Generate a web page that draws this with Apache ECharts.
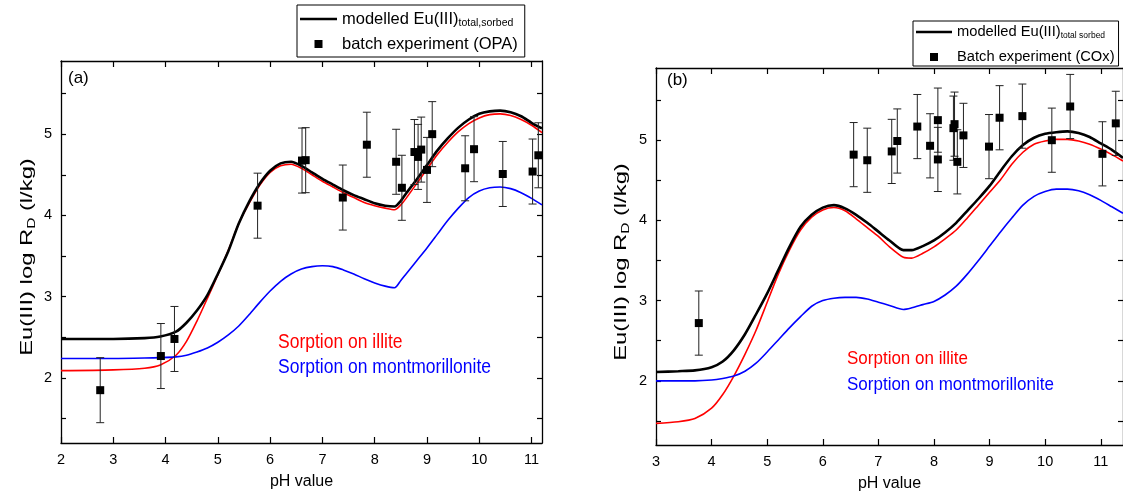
<!DOCTYPE html>
<html><head><meta charset="utf-8">
<script src="https://cdn.jsdelivr.net/npm/echarts@6/dist/echarts.min.js"></script>
<style>html,body{margin:0;padding:0;background:#fff}#c{width:1123px;height:497px}</style>
</head><body><div id="c"></div>
<script>
// ---------- Panel (a): OPA ----------
const phCurveA = [2, 3, 3.6, 3.9, 4.2, 4.4, 4.6, 4.8, 5.0, 5.2, 5.4, 5.6, 5.8, 6.0, 6.2, 6.4, 6.6, 6.8, 7.0, 7.2, 7.4, 7.6, 7.8, 8.0, 8.2, 8.38, 8.5, 8.6, 8.8, 9.0, 9.2, 9.4, 9.6, 9.8, 10.0, 10.2, 10.4, 10.6, 10.8, 11.0, 11.2];
const totalA = [2.48, 2.48, 2.49, 2.51, 2.57, 2.68, 2.83, 3.02, 3.28, 3.56, 3.9, 4.17, 4.39, 4.55, 4.64, 4.66, 4.61, 4.53, 4.45, 4.38, 4.31, 4.25, 4.2, 4.15, 4.12, 4.11, 4.18, 4.27, 4.44, 4.62, 4.8, 4.95, 5.08, 5.18, 5.25, 5.28, 5.29, 5.27, 5.22, 5.14, 5.07];
const illiteA = [2.09, 2.1, 2.12, 2.16, 2.28, 2.45, 2.7, 2.98, 3.27, 3.57, 3.9, 4.15, 4.37, 4.53, 4.61, 4.63, 4.58, 4.5, 4.42, 4.35, 4.28, 4.22, 4.16, 4.12, 4.09, 4.07, 4.13, 4.21, 4.39, 4.57, 4.75, 4.9, 5.03, 5.13, 5.2, 5.24, 5.25, 5.23, 5.18, 5.11, 5.02];
const montA = [2.24, 2.24, 2.245, 2.25, 2.26, 2.28, 2.32, 2.37, 2.44, 2.53, 2.64, 2.78, 2.93, 3.07, 3.19, 3.28, 3.34, 3.37, 3.38, 3.37, 3.33, 3.28, 3.22, 3.17, 3.13, 3.11, 3.2, 3.28, 3.44, 3.6, 3.77, 3.94, 4.09, 4.22, 4.3, 4.34, 4.35, 4.33, 4.28, 4.21, 4.13];
const phExpA = [2.75, 3.91, 4.17, 5.76, 6.61, 6.68, 7.39, 7.85, 8.41, 8.52, 8.76, 8.83, 8.89, 9.0, 9.1, 9.73, 9.90, 10.45, 11.02, 11.13];
const rdExpA = [1.85, 2.27, 2.48, 4.12, 4.675, 4.68, 4.22, 4.87, 4.66, 4.34, 4.78, 4.72, 4.81, 4.56, 5.0, 4.58, 4.815, 4.51, 4.54, 4.74];
const errExpA = [0.4, 0.4, 0.4, 0.4, 0.4, 0.4, 0.4, 0.4, 0.4, 0.4, 0.4, 0.4, 0.4, 0.4, 0.4, 0.4, 0.4, 0.4, 0.4, 0.4];

// ---------- Panel (b): COx ----------
const phCurveB = [3, 3.4, 3.7, 4.0, 4.2, 4.4, 4.6, 4.8, 5.0, 5.2, 5.4, 5.6, 5.8, 6.0, 6.2, 6.4, 6.6, 6.8, 7.0, 7.2, 7.45, 7.6, 7.8, 8.0, 8.2, 8.4, 8.6, 8.8, 9.0, 9.2, 9.4, 9.6, 9.8, 10.0, 10.2, 10.4, 10.6, 10.8, 11.0, 11.2, 11.4];
const totalB = [2.11, 2.12, 2.13, 2.17, 2.24, 2.38, 2.58, 2.83, 3.09, 3.38, 3.67, 3.92, 4.07, 4.16, 4.19, 4.15, 4.07, 3.97, 3.86, 3.75, 3.63, 3.63, 3.68, 3.75, 3.85, 3.97, 4.12, 4.27, 4.43, 4.62, 4.8, 4.94, 5.03, 5.08, 5.1, 5.11, 5.09, 5.04, 4.96, 4.88, 4.78];
const illiteB = [1.47, 1.49, 1.53, 1.66, 1.83, 2.06, 2.33, 2.63, 2.98, 3.33, 3.63, 3.88, 4.04, 4.13, 4.16, 4.12, 4.02, 3.91, 3.8, 3.67, 3.54, 3.53, 3.59, 3.67, 3.77, 3.88, 4.03, 4.19, 4.35, 4.51, 4.7, 4.85, 4.95, 4.99, 5.01, 5.01, 4.99, 4.95, 4.89, 4.82, 4.74];
const montB = [2.0, 2.0, 2.0, 2.01, 2.03, 2.06, 2.12, 2.22, 2.36, 2.51, 2.66, 2.8, 2.93, 3.0, 3.03, 3.04, 3.04, 3.02, 2.98, 2.94, 2.89, 2.91, 2.95, 2.99, 3.07, 3.18, 3.33, 3.5, 3.68, 3.86, 4.03, 4.19, 4.3, 4.36, 4.39, 4.39, 4.37, 4.32, 4.25, 4.17, 4.09];
const phExpB = [3.77, 6.555, 6.80, 7.24, 7.34, 7.70, 7.93, 8.07, 8.07, 8.35, 8.37, 8.42, 8.53, 8.99, 9.18, 9.59, 10.12, 10.45, 11.03, 11.27];
const rdExpB = [2.72, 4.82, 4.75, 4.86, 4.99, 5.17, 4.93, 5.25, 4.76, 5.15, 5.20, 4.73, 5.06, 4.92, 5.28, 5.30, 5.00, 5.42, 4.83, 5.21];
const errExpB = [0.4, 0.4, 0.4, 0.4, 0.4, 0.4, 0.4, 0.4, 0.4, 0.4, 0.4, 0.4, 0.4, 0.4, 0.4, 0.4, 0.4, 0.4, 0.4, 0.4];

// ---------- Ticks ----------
const xTicksA = [2, 3, 4, 5, 6, 7, 8, 9, 10, 11];
const xTicksB = [3, 4, 5, 6, 7, 8, 9, 10, 11];
const yLabelValues = [2, 3, 4, 5];
const yTickValues = [1.5, 2, 2.5, 3, 3.5, 4, 4.5, 5, 5.5];

// ---------- Texts ----------
const yTitle = 'Eu(III) log R{sub|D} (l/kg)';
const xTitle = 'pH value';
const legendTextA = ['modelled Eu(III){sub|total,sorbed}', 'batch experiment (OPA)'];
const legendTextB = ['modelled Eu(III){sub|total sorbed}', 'Batch experiment (COx)'];

const FF = 'Arial, "Liberation Sans", sans-serif';
const zip2 = (xs, ys) => xs.map((x, i) => [x, ys[i]]);
const zip3 = (xs, ys, es) => xs.map((x, i) => [x, ys[i], es[i]]);

function errRender(params, api) {
  const x = api.value(0), y = api.value(1), e = api.value(2);
  const p1 = api.coord([x, y + e]), p2 = api.coord([x, y - e]);
  const w = 4;
  const st = { stroke: '#222', lineWidth: 1 };
  return { type: 'group', children: [
    { type: 'line', shape: { x1: p1[0], y1: p1[1], x2: p2[0], y2: p2[1] }, style: st },
    { type: 'line', shape: { x1: p1[0] - w, y1: p1[1], x2: p1[0] + w, y2: p1[1] }, style: st },
    { type: 'line', shape: { x1: p2[0] - w, y1: p2[1], x2: p2[0] + w, y2: p2[1] }, style: st }
  ]};
}

const axisLine = { show: true, lineStyle: { color: '#000', width: 1.3 } };
function xAxisPair(grid, min, max, ticks) {
  return [
    { gridIndex: grid, type: 'value', min, max, position: 'bottom',
      name: xTitle, nameLocation: 'middle', nameGap: 31,
      nameTextStyle: { fontSize: 16, fontFamily: FF, color: '#000' },
      axisLine, splitLine: { show: false },
      axisTick: { inside: true, length: 6, customValues: ticks, lineStyle: { color: '#000', width: 1.2 } },
      axisLabel: { customValues: ticks, margin: 9, fontSize: 14.5, fontFamily: FF, color: '#000' } },
    { gridIndex: grid, type: 'value', min, max, position: 'top',
      axisLine, splitLine: { show: false },
      axisTick: { inside: true, length: 6, customValues: ticks, lineStyle: { color: '#000', width: 1.2 } },
      axisLabel: { show: false } }
  ];
}
function yAxisPair(grid) {
  return [
    { gridIndex: grid, type: 'value', min: 1.2, max: 5.9, position: 'left',
      axisLine, splitLine: { show: false },
      axisTick: { inside: true, length: 5, customValues: yTickValues, lineStyle: { color: '#000', width: 1.2 } },
      axisLabel: { customValues: yLabelValues, margin: 9, fontSize: 14.5, fontFamily: FF, color: '#000' } },
    { gridIndex: grid, type: 'value', min: 1.2, max: 5.9, position: 'right',
      axisLine, splitLine: { show: false },
      axisTick: { inside: true, length: 5, customValues: yTickValues, lineStyle: { color: '#000', width: 1.2 } },
      axisLabel: { show: false } }
  ];
}

function lineSeries(name, xi, yi, data, color, width, z) {
  return { name, type: 'line', xAxisIndex: xi, yAxisIndex: yi, data, smooth: 0.25,
    showSymbol: false, symbol: 'none', color, itemStyle: { color },
    lineStyle: { color, width }, z, silent: true, animation: false };
}

function yTitleText(cx, cy) {
  return { type: 'text', x: cx, y: cy, rotation: Math.PI / 2, scaleX: 1.4, scaleY: 1,
    style: { text: yTitle, fontSize: 17, fontFamily: FF, fill: '#000', align: 'center', verticalAlign: 'middle',
      rich: { sub: { fontSize: 11, fontFamily: FF, fill: '#000', lineHeight: 13, padding: [9, 0, 0, 0] } } } };
}
function noteText(x, y, text, color, size) {
  return { type: 'text', x, y, scaleY: 1.12,
    style: { text, fontSize: size, fontFamily: FF, fill: color, verticalAlign: 'middle' } };
}

const legendCommon = { orient: 'vertical', selectedMode: false, itemWidth: 37, itemHeight: 8,
  borderColor: '#000', borderWidth: 1, backgroundColor: '#fff' };

const option = {
  animation: false,
  backgroundColor: '#fff',
  grid: [
    { left: 61, top: 61, width: 481, height: 382 },
    { left: 656, top: 68, width: 469, height: 378 }
  ],
  xAxis: [...xAxisPair(0, 2, 11.2, xTicksA), ...xAxisPair(1, 3, 11.4, xTicksB)],
  yAxis: [...yAxisPair(0), ...yAxisPair(1)],
  legend: [
    Object.assign({}, legendCommon, {
      left: 297, top: 5, padding: [4, 7, 3, 3], itemGap: 5,
      data: [{ name: 'mA', icon: 'path://M0,0H37V2.5H0Z' }, { name: 'bA', icon: 'path://M0,0H8V8H0Z' }],
      formatter: n => n === 'mA' ? legendTextA[0] : legendTextA[1],
      textStyle: { fontSize: 16.5, lineHeight: 20, color: '#000', fontFamily: FF,
        rich: { sub: { fontSize: 10.5, lineHeight: 12, padding: [8, 0, 0, 0], fontFamily: FF, color: '#000' } } }
    }),
    Object.assign({}, legendCommon, {
      left: 913, top: 21, padding: [2, 4, 0, 3], itemGap: 7, itemWidth: 36,
      data: [{ name: 'mB', icon: 'path://M0,0H37V2.5H0Z' }, { name: 'bB', icon: 'path://M0,0H8V8H0Z' }],
      formatter: n => n === 'mB' ? legendTextB[0] : legendTextB[1],
      textStyle: { fontSize: 14.7, lineHeight: 18, color: '#000', fontFamily: FF,
        rich: { sub: { fontSize: 8.5, lineHeight: 10, padding: [8, 0, 0, 0], fontFamily: FF, color: '#000' } } }
    })
  ],
  graphic: [
    yTitleText(27, 257),
    yTitleText(621, 262),
    { type: 'text', x: 68, y: 78, style: { text: '(a)', fontSize: 17, fontFamily: FF, fill: '#000', verticalAlign: 'middle' } },
    { type: 'text', x: 667, y: 80, style: { text: '(b)', fontSize: 17, fontFamily: FF, fill: '#000', verticalAlign: 'middle' } },
    noteText(278, 343, 'Sorption on illite', '#ff0000', 17.5),
    noteText(278, 368, 'Sorption on montmorillonite', '#0000ff', 17.5),
    noteText(847, 359, 'Sorption on illite', '#ff0000', 17),
    noteText(847, 385, 'Sorption on montmorillonite', '#0000ff', 17)
  ],
  series: [
    lineSeries('illiteA', 0, 0, zip2(phCurveA, illiteA), '#ff0000', 1.6, 2),
    lineSeries('montA', 0, 0, zip2(phCurveA, montA), '#0000ff', 1.6, 2),
    lineSeries('mA', 0, 0, zip2(phCurveA, totalA), '#000000', 2.6, 3),
    { name: 'errA', type: 'custom', xAxisIndex: 0, yAxisIndex: 0, renderItem: errRender,
      data: zip3(phExpA, rdExpA, errExpA), encode: { x: 0, y: 1 }, z: 4, silent: true },
    { name: 'bA', type: 'scatter', xAxisIndex: 0, yAxisIndex: 0, symbol: 'rect', symbolSize: 8,
      itemStyle: { color: '#000', opacity: 1 }, data: zip2(phExpA, rdExpA), z: 5, silent: true },

    lineSeries('illiteB', 2, 2, zip2(phCurveB, illiteB), '#ff0000', 1.6, 2),
    lineSeries('montB', 2, 2, zip2(phCurveB, montB), '#0000ff', 1.6, 2),
    lineSeries('mB', 2, 2, zip2(phCurveB, totalB), '#000000', 2.6, 3),
    { name: 'errB', type: 'custom', xAxisIndex: 2, yAxisIndex: 2, renderItem: errRender,
      data: zip3(phExpB, rdExpB, errExpB), encode: { x: 0, y: 1 }, z: 4, silent: true },
    { name: 'bB', type: 'scatter', xAxisIndex: 2, yAxisIndex: 2, symbol: 'rect', symbolSize: 8,
      itemStyle: { color: '#000', opacity: 1 }, data: zip2(phExpB, rdExpB), z: 5, silent: true }
  ]
};

const chart = echarts.init(document.getElementById('c'), null, { renderer: 'canvas' });
chart.setOption(option);
</script>
</body></html>
